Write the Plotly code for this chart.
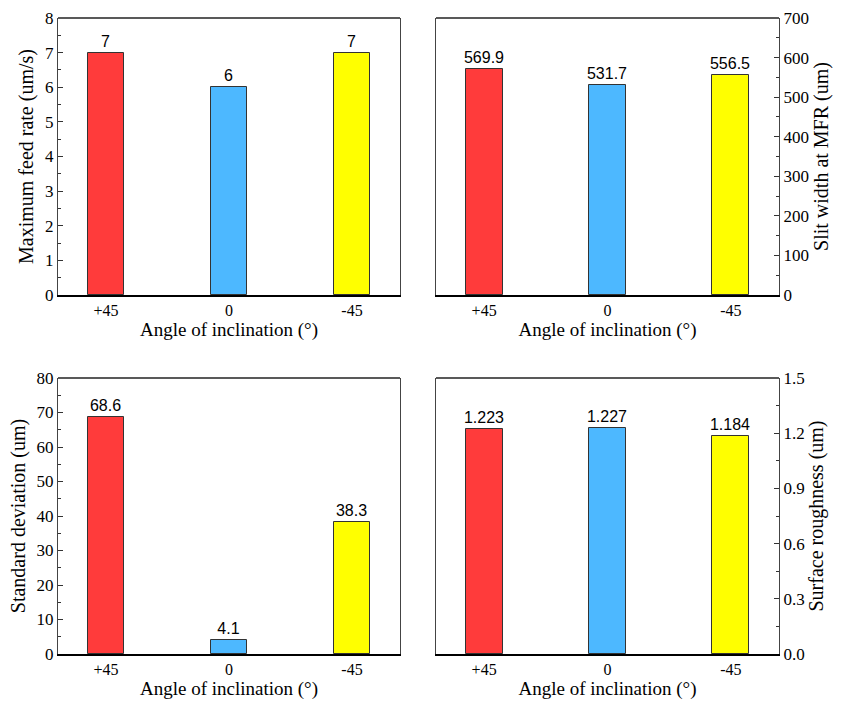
import plotly.graph_objects as go

categories = ["+45", "0", "-45"]
colors = ["#FF3B3B", "#4DB8FF", "#FFFF00"]

feed_rate = [7, 6, 7]
slit_width = [569.9, 531.7, 556.5]
std_dev = [68.6, 4.1, 38.3]
roughness = [1.223, 1.227, 1.184]

feed_labels = ["7", "6", "7"]
slit_labels = ["569.9", "531.7", "556.5"]
std_labels = ["68.6", "4.1", "38.3"]
rough_labels = ["1.223", "1.227", "1.184"]

x_title = "Angle of inclination (°)"
y_titles = ["Maximum feed rate (um/s)", "Slit width at MFR (um)",
            "Standard deviation (um)", "Surface roughness (um)"]

SERIF = "'Liberation Serif', 'Times New Roman', Times, 'DejaVu Serif', serif"
SANS = "'Liberation Sans', Arial, sans-serif"

fig = go.Figure()

panels = [
    (feed_rate, feed_labels, [0, 8], 1, None),
    (slit_width, slit_labels, [0, 700], 100, None),
    (std_dev, std_labels, [0, 80], 10, None),
    (roughness, rough_labels, [0, 1.5], 0.3, ".1f"),
]

xdomains = [[58/846, 400/846], [436/846, 779/846]]
ydomains = [[1-295/701, 1-18/701], [1-654/701, 1-378/701]]

layout_axes = {}
for i, (vals, labels, yr, dt, fmt) in enumerate(panels):
    n = i + 1
    xa = "x" if n == 1 else f"x{n}"
    ya = "y" if n == 1 else f"y{n}"
    fig.add_trace(go.Bar(
        x=list(range(len(categories))), y=vals, text=labels,
        textposition="outside", constraintext="none",
        textfont=dict(family=SANS, size=16, color="black"),
        marker=dict(color=colors, line=dict(color="#333333", width=1)),
        width=0.3, cliponaxis=False, xaxis=xa, yaxis=ya, showlegend=False,
        hoverinfo="skip",
    ))
    col = i % 2
    row = i // 2
    xkey = "xaxis" if n == 1 else f"xaxis{n}"
    ykey = "yaxis" if n == 1 else f"yaxis{n}"
    layout_axes[xkey] = dict(
        domain=xdomains[col], anchor=ya, range=[-0.39, 2.39],
        tickmode="array", tickvals=list(range(len(categories))), ticktext=categories,
        ticks="", showgrid=False, zeroline=False,
        showline=True, linecolor="black", linewidth=2,
        tickfont=dict(family=SERIF, size=16, color="black"),
        title=dict(text=x_title, font=dict(family=SERIF, size=19, color="black"), standoff=4),
        automargin=False,
    )
    layout_axes[ykey] = dict(
        domain=ydomains[row], anchor=xa, range=yr, dtick=dt, tick0=0,
        side="left" if col == 0 else "right",
        ticks="inside", ticklen=5, tickwidth=1, tickcolor="#333333",
        minor=dict(ticks="inside", ticklen=3, dtick=dt/2, tickcolor="#333333", showgrid=False),
        showgrid=False, zeroline=False,
        showline=True, linecolor="#444444", linewidth=1.3, mirror=True,
        tickformat=fmt if fmt else "",
        tickfont=dict(family=SERIF, size=17, color="black"),
        title=dict(text=y_titles[i], font=dict(family=SERIF, size=20, color="black"), standoff=5),
        automargin=False,
    )
    fig.add_shape(type="line", xref=f"{xa} domain", yref=f"{ya} domain",
                  x0=0, x1=1, y0=1, y1=1, line=dict(color="#222222", width=1.3))

fig.update_layout(
    width=846, height=701,
    margin=dict(l=0, r=0, t=0, b=0),
    paper_bgcolor="white", plot_bgcolor="white",
    font=dict(family=SERIF, color="black"),
    bargap=0,
    **layout_axes,
)

fig.write_html("out.html")
